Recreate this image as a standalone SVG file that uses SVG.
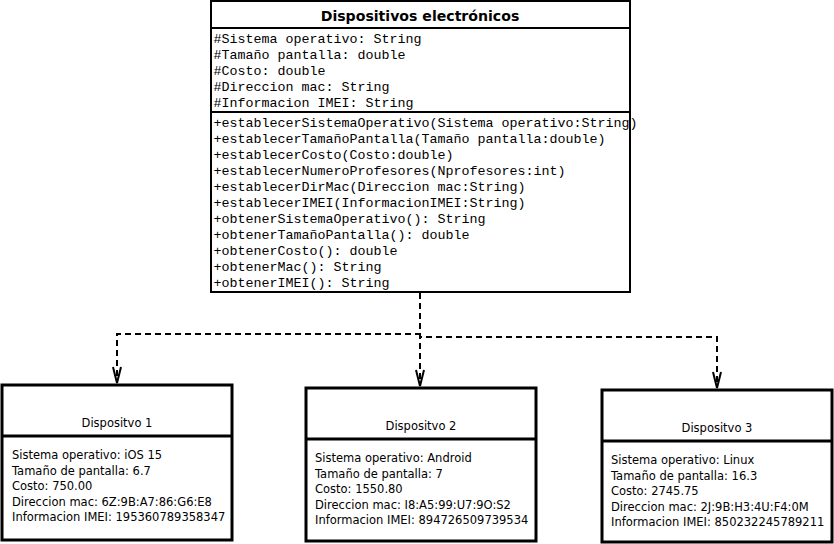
<svg xmlns="http://www.w3.org/2000/svg" width="834" height="544" viewBox="0 0 834 544">
<defs>
<style>
.box{fill:#fff;stroke:#000}
.main{stroke-width:2}
.dev{stroke-width:3}
.sep{stroke:#000;fill:none}
.mono{font-family:"Liberation Mono","Courier New",monospace;font-size:13.33px;fill:#000}
.title{font-family:"DejaVu Sans",Tahoma,sans-serif;font-size:14.1px;font-weight:bold;fill:#000;text-anchor:middle}
.dtitle{font-family:"DejaVu Sans",Tahoma,sans-serif;font-size:11.5px;fill:#000;text-anchor:middle}
.body{font-family:"DejaVu Sans",Tahoma,sans-serif;font-size:11.5px;fill:#000}
.edge{fill:none;stroke:#000;stroke-width:2;stroke-dasharray:6 4}
.head{fill:none;stroke:#000;stroke-width:2;stroke-linejoin:miter}
</style>
</defs>
<rect width="834" height="544" fill="#fff"/>

<g id="connectors">
<path class="edge" d="M420,293 V334 H117 V381"/>
<path class="edge" d="M420,293 V384"/>
<path class="edge" d="M420,293 V337 H717 V385"/>
<path class="head" d="M113,367 L117,383 L121,367"/>
<path class="head" d="M416,370 L420,386 L424,370"/>
<path class="head" d="M713,372 L717,388 L721,372"/>
</g>

<g id="dispositivos-electronicos">
<rect class="box main" x="211" y="1" width="419" height="291"/>
<line class="sep main" x1="211" y1="28" x2="630" y2="28" stroke-width="2"/>
<line class="sep main" x1="211" y1="112" x2="630" y2="112" stroke-width="2"/>
<text class="title" x="420" y="21">Dispositivos electrónicos</text>
<text class="mono" x="213.5" y="43">#Sistema operativo: String</text>
<text class="mono" x="213.5" y="59">#Tamaño pantalla: double</text>
<text class="mono" x="213.5" y="75">#Costo: double</text>
<text class="mono" x="213.5" y="91">#Direccion mac: String</text>
<text class="mono" x="213.5" y="107">#Informacion IMEI: String</text>
<text class="mono" x="213.5" y="127">+establecerSistemaOperativo(Sistema operativo:String)</text>
<text class="mono" x="213.5" y="143">+establecerTamañoPantalla(Tamaño pantalla:double)</text>
<text class="mono" x="213.5" y="159">+establecerCosto(Costo:double)</text>
<text class="mono" x="213.5" y="175">+establecerNumeroProfesores(Nprofesores:int)</text>
<text class="mono" x="213.5" y="191">+establecerDirMac(Direccion mac:String)</text>
<text class="mono" x="213.5" y="207">+establecerIMEI(InformacionIMEI:String)</text>
<text class="mono" x="213.5" y="223">+obtenerSistemaOperativo(): String</text>
<text class="mono" x="213.5" y="239">+obtenerTamañoPantalla(): double</text>
<text class="mono" x="213.5" y="255">+obtenerCosto(): double</text>
<text class="mono" x="213.5" y="271">+obtenerMac(): String</text>
<text class="mono" x="213.5" y="287">+obtenerIMEI(): String</text>
</g>

<g id="dispositivo-1">
<rect class="box dev" x="2" y="385" width="230" height="155"/>
<line class="sep" x1="2" y1="436" x2="232" y2="436" stroke-width="3"/>
<text class="dtitle" x="117" y="427">Dispositvo 1</text>
<text class="body" x="12" y="459">Sistema operativo: iOS 15</text>
<text class="body" x="12" y="474.5">Tamaño de pantalla: 6.7</text>
<text class="body" x="12" y="490">Costo: 750.00</text>
<text class="body" x="12" y="505.5">Direccion mac: 6Z:9B:A7:86:G6:E8</text>
<text class="body" x="12" y="521">Informacion IMEI: 195360789358347</text>
</g>

<g id="dispositivo-2">
<rect class="box dev" x="306" y="388" width="230" height="153"/>
<line class="sep" x1="306" y1="439" x2="536" y2="439" stroke-width="3"/>
<text class="dtitle" x="421" y="430">Dispositvo 2</text>
<text class="body" x="315" y="462">Sistema operativo: Android</text>
<text class="body" x="315" y="477.5">Tamaño de pantalla: 7</text>
<text class="body" x="315" y="493">Costo: 1550.80</text>
<text class="body" x="315" y="508.5">Direccion mac: I8:A5:99:U7:9O:S2</text>
<text class="body" x="315" y="524">Informacion IMEI: 894726509739534</text>
</g>

<g id="dispositivo-3">
<rect class="box dev" x="602" y="390" width="230" height="152"/>
<line class="sep" x1="602" y1="441" x2="832" y2="441" stroke-width="3"/>
<text class="dtitle" x="717" y="432">Dispositvo 3</text>
<text class="body" x="611" y="464">Sistema operativo: Linux</text>
<text class="body" x="611" y="479.5">Tamaño de pantalla: 16.3</text>
<text class="body" x="611" y="495">Costo: 2745.75</text>
<text class="body" x="611" y="510.5">Direccion mac: 2J:9B:H3:4U:F4:0M</text>
<text class="body" x="611" y="526">Informacion IMEI: 850232245789211</text>
</g>
</svg>
